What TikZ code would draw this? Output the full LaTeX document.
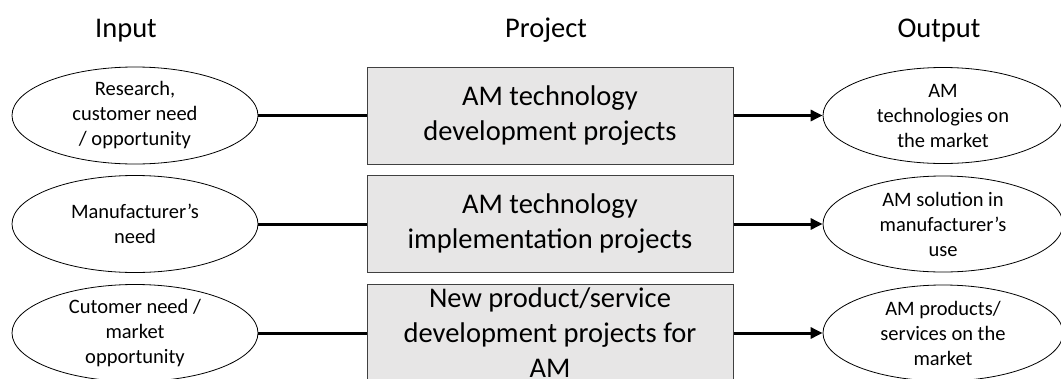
\documentclass[tikz,border=0pt]{standalone}
\usepackage{fontspec}
\setmainfont{Carlito}
\usetikzlibrary{shapes.geometric,arrows.meta}
\definecolor{boxgray}{HTML}{E7E6E6}
\definecolor{boxline}{HTML}{404040}
\begin{document}
\begin{tikzpicture}[x=1pt, y=-1pt]
    \tikzstyle{head_lbl}  = [anchor = base, inner sep=0pt, font=\fontsize{28.5}{35}\selectfont]
    \tikzstyle{in_oval}   = [shape = ellipse, draw = black, line width=0.8pt, minimum width=246pt, minimum height=97pt,
                             inner xsep=-30pt, inner ysep=-15pt, align=center, font=\fontsize{20.5}{25}\selectfont]
    \tikzstyle{out_oval}  = [in_oval, minimum width=240pt, minimum height=96pt]
    \tikzstyle{proj_box}  = [shape = rectangle, draw = boxline, fill = boxgray, line width=1pt, minimum width=366pt,
                             minimum height=97pt, inner ysep=-10pt, align=center, font=\fontsize{28.5}{35}\selectfont]

    \clip (0, 0) rectangle (1061, 378);

    \node[head_lbl] at (126, 37) (h_in)   {Input};
    \node[head_lbl] at (546, 37) (h_proj) {Project};
    \node[head_lbl] at (939, 37) (h_out)  {Output};

    \node[in_oval]  at (135, 115.5) (in_1)   {Research,\\customer need\\/ opportunity};
    \node[proj_box] at (550, 115.5) (proj_1) {AM technology\\development projects};
    \node[out_oval] at (943, 115.5) (out_1)  {AM\\technologies on\\the market};

    \node[in_oval]  at (135, 224)   (in_2)   {Manufacturer’s\\need};
    \node[proj_box] at (550, 224)   (proj_2) {AM technology\\implementation projects};
    \node[out_oval] at (943, 224)   (out_2)  {AM solution in\\manufacturer’s\\use};

    \node[in_oval]  at (135, 333)   (in_3)   {Cutomer need /\\market\\opportunity};
    \node[proj_box] at (550, 333)   (proj_3) {New product/service\\development projects for\\AM};
    \node[out_oval] at (943, 333)   (out_3)  {AM products/\\services on the\\market};

    \draw[line width=3pt]
      (in_1) edge (proj_1)
      (in_2) edge (proj_2)
      (in_3) edge (proj_3)
      (proj_1) edge[-{Triangle[length=12pt, width=11pt]}] (out_1)
      (proj_2) edge[-{Triangle[length=12pt, width=11pt]}] (out_2)
      (proj_3) edge[-{Triangle[length=12pt, width=11pt]}] (out_3)
    ;
  \end{tikzpicture}
\end{document}
